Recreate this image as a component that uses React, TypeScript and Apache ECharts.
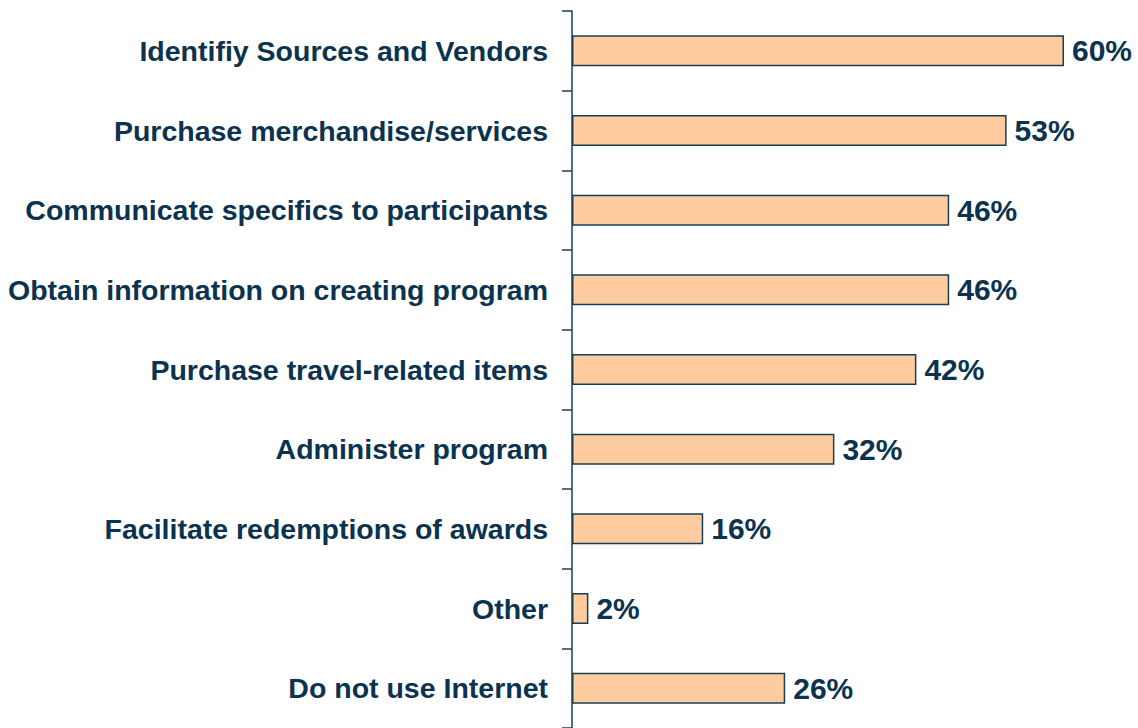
import React, { useEffect, useRef } from "react";
import * as echarts from "echarts";

const categories = [
  "Identifiy Sources and Vendors",
  "Purchase merchandise/services",
  "Communicate specifics to participants",
  "Obtain information on creating program",
  "Purchase travel-related items",
  "Administer program",
  "Facilitate redemptions of awards",
  "Other",
  "Do not use Internet",
];
const values = [60, 53, 46, 46, 42, 32, 16, 2, 26];

const textColor = "#0B3350";
const barFill = "#FFCC9F";
const barBorder = "#173F56";
const font = "'Liberation Sans', Arial, sans-serif";

export default function App() {
  const ref = useRef<HTMLDivElement>(null);
  useEffect(() => {
    document.body.style.margin = "0";
    const chart = echarts.init(ref.current!, null, { renderer: "svg" });
    chart.setOption({
      animation: false,
      backgroundColor: "#ffffff",
      grid: { left: 572, top: 11, width: 533, height: 720, containLabel: false },
      xAxis: {
        type: "value",
        min: 0,
        max: 65,
        show: false,
      },
      yAxis: {
        type: "category",
        data: categories,
        inverse: true,
        axisLine: { show: true, lineStyle: { color: barBorder, width: 1.5 } },
        axisTick: { show: true, length: 10, lineStyle: { color: barBorder, width: 1.5 } },
        axisLabel: {
          margin: 24,
          color: textColor,
          fontFamily: font,
          fontWeight: "bold",
          fontSize: 28.5,
          padding: [3, 0, 0, 0],
        },
        splitLine: { show: false },
      },
      series: [
        {
          type: "bar",
          data: values,
          barWidth: 31,
          itemStyle: { color: barFill, borderColor: barBorder, borderWidth: 1.5 },
          label: {
            show: true,
            position: "right",
            distance: 8,
            formatter: "{c}%",
            color: textColor,
            fontFamily: font,
            fontWeight: "bold",
            fontSize: 30,
            padding: [3, 0, 0, 0],
          },
        },
      ],
    });
    return () => chart.dispose();
  }, []);
  return <div ref={ref} style={{ width: 1138, height: 728 }} />;
}
